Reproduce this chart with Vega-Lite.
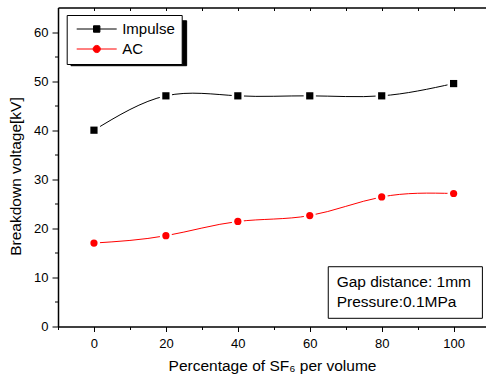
{
  "$schema": "https://vega.github.io/schema/vega-lite/v6.json",
  "width": 428,
  "height": 319,
  "autosize": "none",
  "padding": {"left": 58, "top": 7.5, "right": 0, "bottom": 51.5},
  "background": "white",
  "config": {
    "view": {"stroke": null},
    "font": "Liberation Sans",
    "axis": {
      "grid": false,
      "domainColor": "black",
      "domainWidth": 1.5,
      "tickColor": "black",
      "tickWidth": 1,
      "labelColor": "black",
      "labelFont": "Liberation Sans",
      "labelFontSize": 13,
      "titleFont": "Liberation Sans",
      "titleFontSize": 15.5,
      "titleFontWeight": "normal",
      "titleColor": "black"
    }
  },
  "data": {
    "values": [
      {"series": "Impulse", "pct": 0, "kv": 40},
      {"series": "Impulse", "pct": 20, "kv": 47},
      {"series": "Impulse", "pct": 40, "kv": 47},
      {"series": "Impulse", "pct": 60, "kv": 47},
      {"series": "Impulse", "pct": 80, "kv": 47},
      {"series": "Impulse", "pct": 100, "kv": 49.5},
      {"series": "AC", "pct": 0, "kv": 17},
      {"series": "AC", "pct": 20, "kv": 18.5},
      {"series": "AC", "pct": 40, "kv": 21.4},
      {"series": "AC", "pct": 60, "kv": 22.6},
      {"series": "AC", "pct": 80, "kv": 26.4},
      {"series": "AC", "pct": 100, "kv": 27.1}
    ]
  },
  "resolve": {"axis": {"x": "independent", "y": "independent"}},
  "layer": [
    {
      "data": {"values": [{"note": "annotation box"}]},
      "mark": {"type": "rect", "fill": "white", "stroke": "black", "strokeWidth": 1},
      "encoding": {
        "x": {"datum": 65.14, "type": "quantitative", "scale": {"domain": [-10, 109], "nice": false, "zero": false},
          "axis": {"orient": "bottom", "values": [0, 20, 40, 60, 80, 100], "tickSize": 5, "labelPadding": 5.5, "title": "Percentage of SF₆ per volume", "titlePadding": 8}},
        "x2": {"datum": 108.0},
        "y": {"datum": 12.18, "type": "quantitative", "scale": {"domain": [0, 65], "nice": false, "zero": false},
          "axis": {"orient": "left", "values": [0, 10, 20, 30, 40, 50, 60], "tickSize": 6, "labelPadding": 4, "title": "Breakdown voltage[kV]", "titlePadding": 10, "titleY": 168.5}},
        "y2": {"datum": 1.67}
      }
    },
    {
      "data": {"values": [{"note": "legend shadow"}]},
      "mark": {"type": "rect", "fill": "black", "stroke": "black", "strokeWidth": 1, "opacity": 1},
      "encoding": {
        "x": {"datum": -6.39, "type": "quantitative", "scale": {"domain": [-10, 109], "nice": false, "zero": false},
          "axis": {"orient": "bottom", "values": [-10, 10, 30, 50, 70, 90], "tickSize": 3, "labels": false, "domain": false, "title": null}},
        "x2": {"datum": 25.77},
        "y": {"datum": 62.3, "type": "quantitative", "scale": {"domain": [0, 65], "nice": false, "zero": false},
          "axis": {"orient": "left", "values": [5, 15, 25, 35, 45, 55], "tickSize": 3.5, "labels": false, "domain": false, "title": null}},
        "y2": {"datum": 53.14}
      }
    },
    {
      "data": {"values": [{"line": "Gap distance: 1mm", "xv": 67.47, "yv": 7.99}, {"line": "Pressure:0.1MPa", "xv": 67.47, "yv": 3.91}]},
      "mark": {"type": "text", "align": "left", "baseline": "alphabetic", "fontSize": 15.5, "font": "Liberation Sans", "color": "black"},
      "encoding": {
        "x": {"field": "xv", "type": "quantitative", "scale": {"domain": [-10, 109], "nice": false, "zero": false},
          "axis": {"orient": "top", "values": [0, 10, 20, 30, 40, 50, 60, 70, 80, 90, 100], "tickSize": -3, "labels": false, "title": null}},
        "y": {"field": "yv", "type": "quantitative", "scale": {"domain": [0, 65], "nice": false, "zero": false}, "axis": null},
        "text": {"field": "line"}
      }
    },
    {
      "mark": {"type": "line", "interpolate": "natural", "strokeWidth": 1},
      "encoding": {
        "x": {"field": "pct", "type": "quantitative", "scale": {"domain": [-10, 109], "nice": false, "zero": false}, "axis": null},
        "y": {"field": "kv", "type": "quantitative", "scale": {"domain": [0, 65], "nice": false, "zero": false}, "axis": null},
        "color": {
          "field": "series", "type": "nominal",
          "scale": {"domain": ["Impulse", "AC"], "range": ["black", "red"]},
          "legend": {
            "orient": "none", "legendX": 8.7, "legendY": 7.5, "title": null,
            "fillColor": "white", "strokeColor": "black", "padding": 6.5,
            "labelFontSize": 15, "labelFont": "Liberation Sans", "labelColor": "black",
            "symbolSize": 64, "symbolOffset": 16, "labelOffset": 18, "rowPadding": 4,
            "encode": {
              "symbols": {
                "update": {
                  "shape": {"signal": "datum.value === 'Impulse' ? 'M-5,0H5M-0.8,-0.8H0.8V0.8H-0.8Z' : 'M-5,0H5M0.9,0A0.9,0.9,0,1,1,-0.9,0A0.9,0.9,0,1,1,0.9,0Z'"},
                  "fill": {"signal": "datum.value === 'Impulse' ? 'black' : 'red'"},
                  "stroke": {"signal": "datum.value === 'Impulse' ? 'black' : 'red'"},
                  "strokeWidth": {"value": 1},
                  "size": {"value": 64},
                  "opacity": {"value": 1}
                }
              }
            }
          }
        },
        "detail": {"field": "series"}
      }
    },
    {
      "transform": [{"filter": "datum.series === 'Impulse'"}],
      "mark": {"type": "point", "shape": "square", "filled": true, "color": "white", "opacity": 1, "size": 150},
      "encoding": {
        "x": {"field": "pct", "type": "quantitative", "scale": {"domain": [-10, 109], "nice": false, "zero": false}, "axis": null},
        "y": {"field": "kv", "type": "quantitative", "scale": {"domain": [0, 65], "nice": false, "zero": false}, "axis": null}
      }
    },
    {
      "transform": [{"filter": "datum.series === 'AC'"}],
      "mark": {"type": "point", "shape": "circle", "filled": true, "color": "white", "opacity": 1, "size": 150},
      "encoding": {
        "x": {"field": "pct", "type": "quantitative", "scale": {"domain": [-10, 109], "nice": false, "zero": false}, "axis": null},
        "y": {"field": "kv", "type": "quantitative", "scale": {"domain": [0, 65], "nice": false, "zero": false}, "axis": null}
      }
    },
    {
      "transform": [{"filter": "datum.series === 'Impulse'"}],
      "mark": {"type": "point", "shape": "square", "filled": true, "color": "black", "opacity": 1, "size": 52},
      "encoding": {
        "x": {"field": "pct", "type": "quantitative", "scale": {"domain": [-10, 109], "nice": false, "zero": false}, "axis": null},
        "y": {"field": "kv", "type": "quantitative", "scale": {"domain": [0, 65], "nice": false, "zero": false}, "axis": null}
      }
    },
    {
      "transform": [{"filter": "datum.series === 'AC'"}],
      "mark": {"type": "point", "shape": "circle", "filled": true, "color": "red", "opacity": 1, "size": 52},
      "encoding": {
        "x": {"field": "pct", "type": "quantitative", "scale": {"domain": [-10, 109], "nice": false, "zero": false}, "axis": null},
        "y": {"field": "kv", "type": "quantitative", "scale": {"domain": [0, 65], "nice": false, "zero": false}, "axis": null}
      }
    }
  ]
}
